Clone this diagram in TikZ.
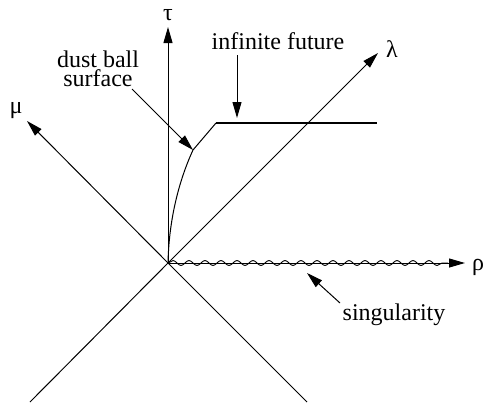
\documentclass[tikz,border=0pt]{standalone}
\usepackage{fontspec}
\setmainfont{Liberation Serif}
\newfontfamily\tms{Liberation Serif}
\usetikzlibrary{arrows.meta,decorations.pathmorphing}
\begin{document}
\begin{tikzpicture}[x=1pt,y=-1pt,
  axis/.style={line width=1pt,-{Triangle[length=16pt,width=9pt]}},
  plain/.style={line width=1pt},
  lbl/.style={font=\tms\fontsize{24}{19}\selectfont, inner sep=0pt, anchor=base},
  ptr/.style={line width=1pt,-{Triangle[length=16pt,width=9pt]}}]
\useasboundingbox (0,0) rectangle (485,402);
% axes
\coordinate (O) at (168,263);
\coordinate (T) at (168,27);
\coordinate (L) at (378,53);
\coordinate (M) at (27,121);
\coordinate (R) at (465,263);
\coordinate (LL) at (30,402);
\coordinate (LR) at (307,402);
\coordinate (W) at (448,263);
% dust ball surface and infinite future
\coordinate (C1) at (193,150);
\coordinate (C2) at (216,123);
\coordinate (F) at (377,123);
\draw[axis] (O) -- (T);
\draw[axis] (O) -- (L);
\draw[axis] (O) -- (M);
\draw[axis] (O) -- (R);
\draw[plain] (O) -- (LL);
\draw[plain] (O) -- (LR);
\draw[line width=0.9pt, decorate, decoration={snake, segment length=16pt, amplitude=2.5pt}] (O) -- (W);
\draw[plain] (O) .. controls (169,215) and (181,176) .. (C1) -- (C2);
\draw[line width=2.5pt] (C2) -- (F);
% labels
\node[lbl] (tau) at (168,20) {τ};
\node[lbl] (lam) at (392,57) {λ};
\node[lbl] (mu) at (16,113) {μ};
\node[lbl] (rho) at (478,270) {ρ};
\node[lbl] (inf) at (278,49) {infinite future};
\node[lbl, anchor=north, align=center] (dust) at (98,51) {dust ball\\surface};
\node[lbl] (sing) at (394,320) {singularity};
% pointers
\coordinate (ds) at (132,89);
\coordinate (is) at (237,55);
\coordinate (ie) at (237,118);
\coordinate (ss) at (340,303);
\coordinate (se) at (307,273);
\draw[ptr] (ds) -- (C1);
\draw[ptr] (is) -- (ie);
\draw[ptr] (ss) -- (se);
\end{tikzpicture}
\end{document}
